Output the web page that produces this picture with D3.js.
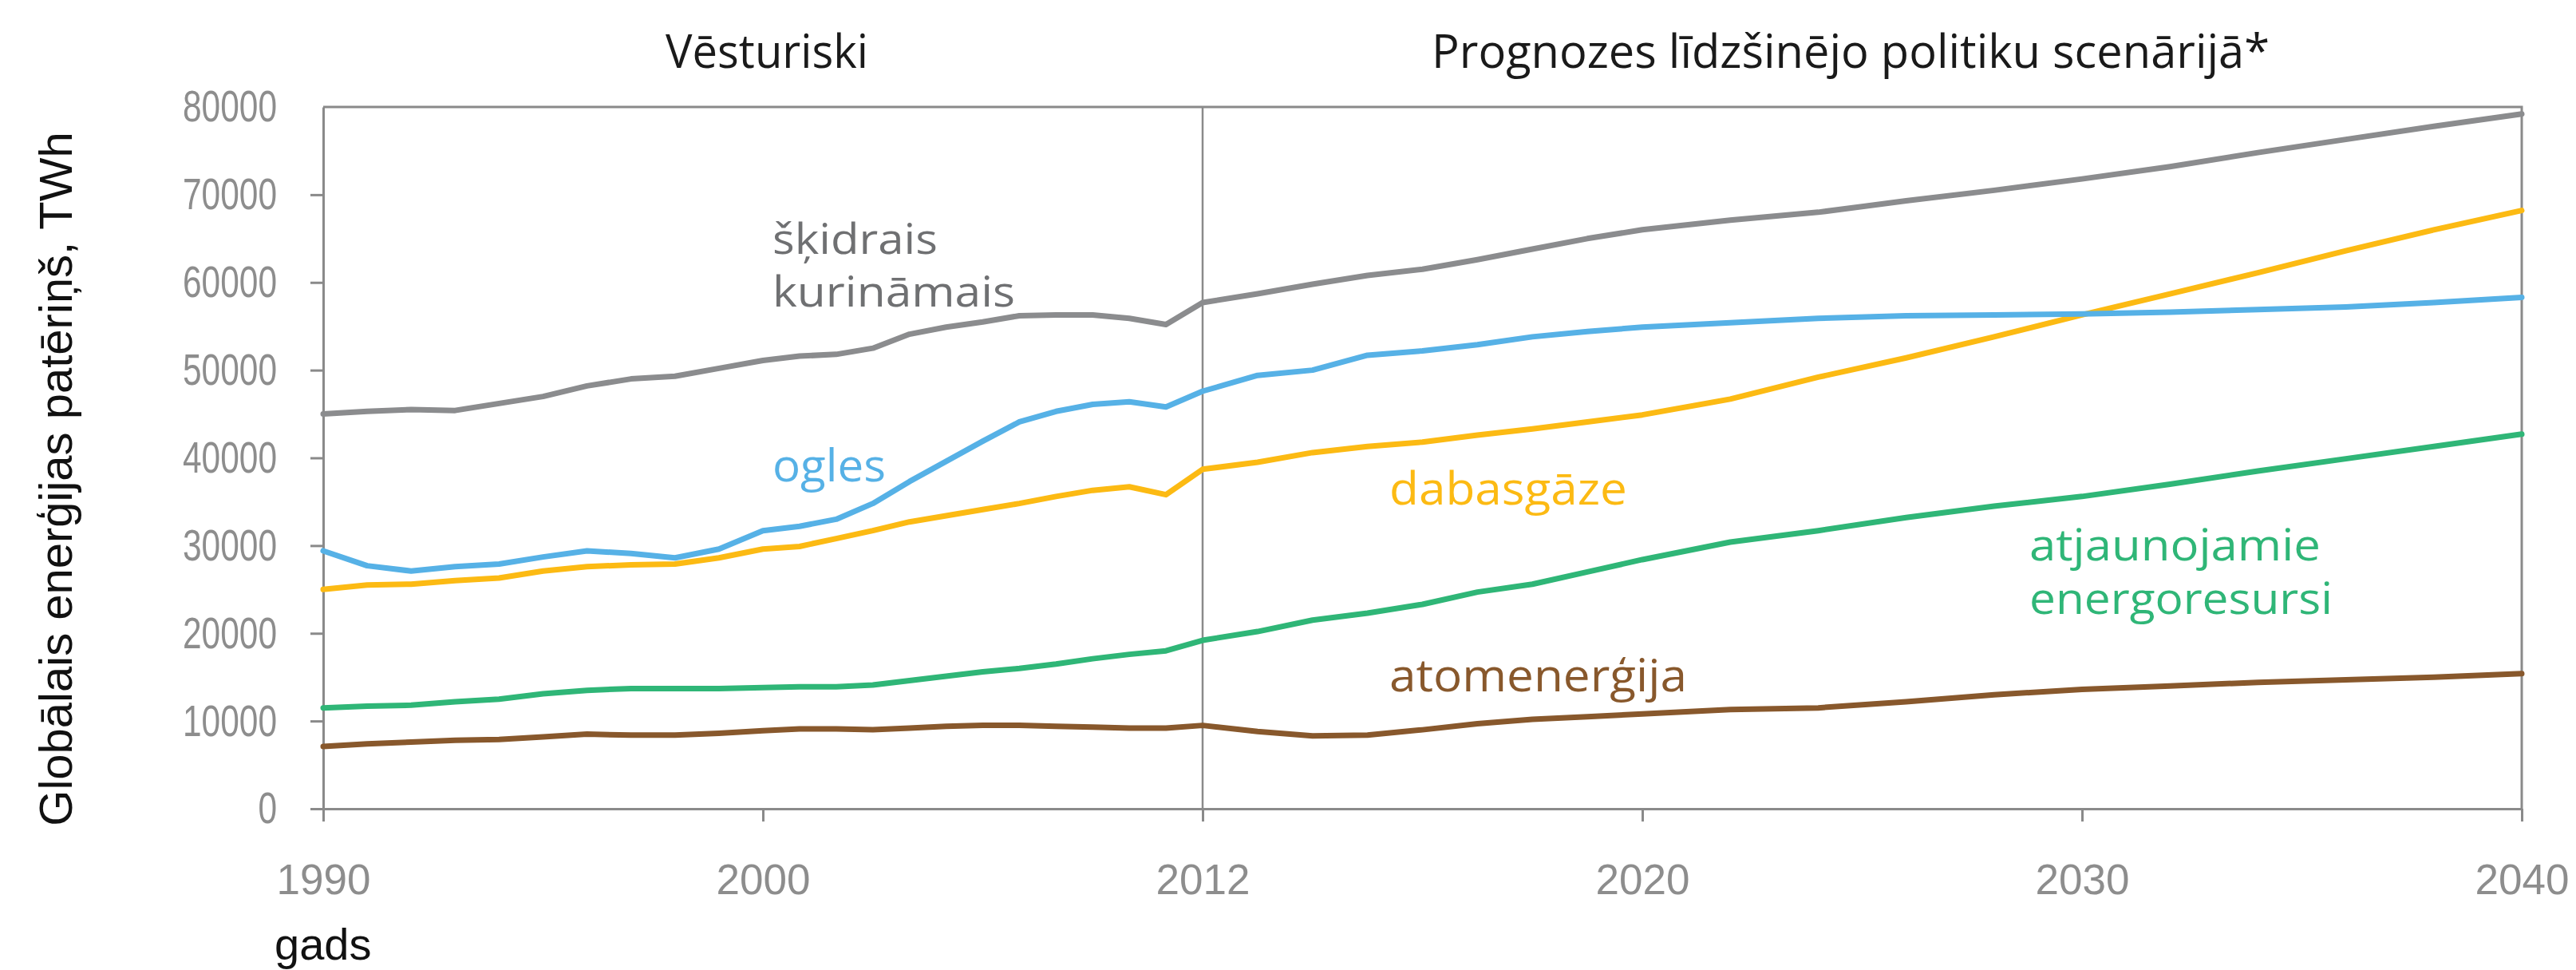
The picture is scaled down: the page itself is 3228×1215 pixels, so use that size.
<!DOCTYPE html>
<html>
<head>
<meta charset="utf-8">
<script src="https://cdn.jsdelivr.net/npm/d3@7"></script>
<style>
  html, body { margin: 0; padding: 0; background: #fff; }
  svg { display: block; }
</style>
</head>
<body>
<div id="chart"></div>
<script>
// years: yearly history, yearly projection to 2020, then every 2 years
var years = [1990, 1991, 1992, 1993, 1994, 1995, 1996, 1997, 1998, 1999,
  2000, 2001, 2002, 2003, 2004, 2005, 2006, 2007, 2008, 2009, 2010, 2011, 2012,
  2013, 2014, 2015, 2016, 2017, 2018, 2019, 2020,
  2022, 2024, 2026, 2028, 2030, 2032, 2034, 2036, 2038, 2040];

// TWh
var liquids = [45000, 45300, 45500, 45400, 46200, 47000, 48200, 49000, 49300, 50200,
  51100, 51600, 51800, 52500, 54100, 54900, 55500, 56200, 56300, 56300, 55900, 55200, 57700,
  58700, 59800, 60800, 61500, 62600, 63800, 65000, 66000,
  67100, 68000, 69300, 70500, 71800, 73200, 74800, 76300, 77800, 79200];
var coal = [29400, 27700, 27100, 27600, 27900, 28700, 29400, 29100, 28600, 29600,
  31700, 32200, 33000, 34800, 37300, 39600, 41900, 44100, 45300, 46100, 46400, 45800, 47600,
  49400, 50000, 51700, 52200, 52900, 53800, 54400, 54900,
  55400, 55900, 56200, 56300, 56400, 56600, 56900, 57200, 57700, 58300];
var gas = [25000, 25500, 25600, 26000, 26300, 27100, 27600, 27800, 27900, 28600,
  29600, 29900, 30800, 31700, 32700, 33400, 34100, 34800, 35600, 36300, 36700, 35800, 38700,
  39500, 40600, 41300, 41800, 42600, 43300, 44100, 44900,
  46700, 49200, 51400, 53800, 56300, 58700, 61100, 63600, 66000, 68200];
var renewables = [11500, 11700, 11800, 12200, 12500, 13100, 13500, 13700, 13700, 13700,
  13800, 13900, 13900, 14100, 14600, 15100, 15600, 16000, 16500, 17100, 17600, 18000, 19200,
  20200, 21500, 22300, 23300, 24700, 25600, 27000, 28400,
  30400, 31700, 33200, 34500, 35600, 37000, 38500, 39900, 41300, 42700];
var nuclear = [7100, 7400, 7600, 7800, 7900, 8200, 8500, 8400, 8400, 8600,
  8900, 9100, 9100, 9000, 9200, 9400, 9500, 9500, 9400, 9300, 9200, 9200, 9500,
  8800, 8300, 8400, 9000, 9700, 10200, 10500, 10800,
  11300, 11500, 12200, 13000, 13600, 14000, 14400, 14700, 15000, 15400];

var tickYears = [1990, 2000, 2012, 2020, 2030, 2040];
var yTicks = [0, 10000, 20000, 30000, 40000, 50000, 60000, 70000, 80000];
var splitYear = 2012;

var width = 3228, height = 1215;
var plot = { left: 405, right: 3160, top: 134, bottom: 1013 };
var axisColor = '#8a8a8a';
var labelFont = '"Open Sans", "Noto Sans", sans-serif';
var tickFont = '"Liberation Sans", Arial, sans-serif';

var svg = d3.select('#chart').append('svg')
  .attr('xmlns', 'http://www.w3.org/2000/svg')
  .attr('width', width)
  .attr('height', height);

svg.append('rect').attr('width', width).attr('height', height).attr('fill', '#fff');

// tick years are drawn evenly spaced, so the scale is piecewise
var step = (plot.right - plot.left) / (tickYears.length - 1);
var x = d3.scaleLinear()
  .domain(tickYears)
  .range(tickYears.map(function (d, i) { return plot.left + i * step; }));
var y = d3.scaleLinear().domain([0, 80000]).range([plot.bottom, plot.top]);

// frame: top and right edges
svg.append('path')
  .attr('d', 'M' + x(1990) + ',' + y(80000) + 'H' + x(2040) + 'V' + y(0))
  .attr('fill', 'none')
  .attr('stroke', axisColor)
  .attr('stroke-width', 3);

// split between history and projection
svg.append('line')
  .attr('x1', x(splitYear)).attr('x2', x(splitYear))
  .attr('y1', y(80000)).attr('y2', y(0))
  .attr('stroke', axisColor)
  .attr('stroke-width', 2.5);

var yAxis = svg.append('g')
  .attr('transform', 'translate(' + plot.left + ',0)')
  .call(d3.axisLeft(y).tickValues(yTicks).tickSize(16).tickPadding(42).tickSizeOuter(0)
    .tickFormat(d3.format('d')));

var xAxis = svg.append('g')
  .attr('transform', 'translate(0,' + plot.bottom + ')')
  .call(d3.axisBottom(x).tickValues(tickYears).tickSize(16).tickPadding(53).tickSizeOuter(0)
    .tickFormat(d3.format('d')));

[yAxis, xAxis].forEach(function (g) {
  g.select('.domain').attr('stroke', axisColor).attr('stroke-width', 3);
  g.selectAll('.tick line').attr('stroke', axisColor).attr('stroke-width', 3);
  g.selectAll('.tick text')
    .attr('fill', '#8d8d8d')
    .style('font-family', tickFont)
    .style('font-size', '53px');
});

// the value labels are set in a narrow face
yAxis.selectAll('.tick text')
  .style('font-size', '56px')
  .attr('textLength', function (d) { return String(d).length * 23.6; })
  .attr('lengthAdjust', 'spacingAndGlyphs');
yAxis.selectAll('.tick').filter(function (d) { return d === 80000; })
  .select('line').remove();

var series = [
  { name: 'liquids', values: liquids, color: '#8b8c8e' },
  { name: 'gas', values: gas, color: '#fcba13' },
  { name: 'coal', values: coal, color: '#56b1e6' },
  { name: 'renewables', values: renewables, color: '#2fb677' },
  { name: 'nuclear', values: nuclear, color: '#88582c' }
];

var line = d3.line()
  .x(function (d, i) { return x(years[i]); })
  .y(function (d) { return y(d); });

svg.append('g').selectAll('path')
  .data(series)
  .enter().append('path')
  .attr('d', function (s) { return line(s.values); })
  .attr('fill', 'none')
  .attr('stroke', function (s) { return s.color; })
  .attr('stroke-width', 7)
  .attr('stroke-linejoin', 'round')
  .attr('stroke-linecap', 'round');

// text blocks: lines of [content, baseline, width], left, colour, size
var texts = [
  { lines: [['Vēsturiski', 85, 254]], x: 834, color: '#1a1a1a', size: 58 },
  { lines: [['Prognozes līdzšinējo politiku scenārijā*', 85, 1050]], x: 1794, color: '#1a1a1a', size: 58 },
  { lines: [['šķidrais', 318, 207], ['kurināmais', 384, 304]], x: 968, color: '#6f7072', size: 53 },
  { lines: [['ogles', 603, 142]], x: 968, color: '#56b1e6', size: 56 },
  { lines: [['dabasgāze', 632, 298]], x: 1741, color: '#fcba13', size: 56 },
  { lines: [['atjaunojamie', 702, 365], ['energoresursi', 769, 380]], x: 2543, color: '#2fb677', size: 54 },
  { lines: [['atomenerģija', 866, 373]], x: 1741, color: '#88582c', size: 56 }
];

var blocks = svg.append('g').selectAll('text')
  .data(texts)
  .enter().append('text')
  .attr('fill', function (d) { return d.color; })
  .style('font-family', labelFont)
  .style('font-size', function (d) { return d.size + 'px'; });

blocks.selectAll('tspan')
  .data(function (d) { return d.lines.map(function (l) { return { l: l, x: d.x }; }); })
  .enter().append('tspan')
  .attr('x', function (d) { return d.x; })
  .attr('y', function (d) { return d.l[1]; })
  .attr('textLength', function (d) { return d.l[2]; })
  .attr('lengthAdjust', 'spacingAndGlyphs')
  .text(function (d) { return d.l[0]; });

svg.append('text')
  .attr('transform', 'translate(90,' + 600 + ') rotate(-90)')
  .attr('text-anchor', 'middle')
  .attr('fill', '#111')
  .style('font-family', tickFont)
  .style('font-size', '58px')
  .text('Globālais enerģijas patēriņš, TWh');

svg.append('text')
  .attr('x', 344)
  .attr('y', 1202)
  .attr('fill', '#111')
  .style('font-family', tickFont)
  .style('font-size', '56px')
  .text('gads');
</script>
</body>
</html>
